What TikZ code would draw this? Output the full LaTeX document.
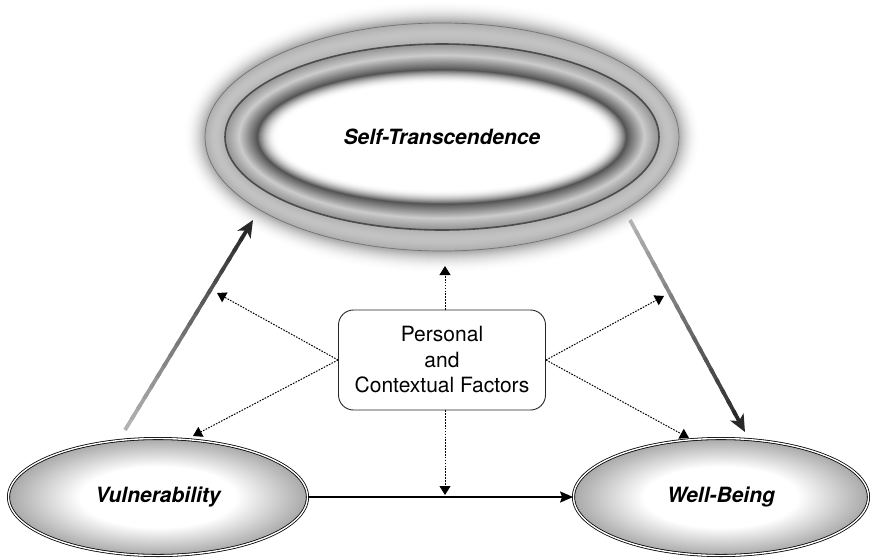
\documentclass[tikz,border=0pt]{standalone}
\usepackage{fontspec}
\setmainfont{TeX Gyre Heros}
\usetikzlibrary{positioning, calc, arrows.meta, shapes.geometric}

\pgfdeclareradialshading{ovalshade}{\pgfpoint{0bp}{0bp}}{color(0bp)=(white); color(13bp)=(white); color(25bp)=(black!34); color(50bp)=(black!34)}

\tikzset{
  oval/.style={ellipse, draw, double, double distance=1.4pt, line width=0.8pt, shade, shading=ovalshade, minimum height=117pt, font=\fontsize{21}{25}\selectfont\bfseries\itshape},
  factorbox/.style={draw=black!85, line width=0.9pt, rounded corners=15pt, minimum width=207pt, minimum height=100pt, align=center, font=\fontsize{21}{25.5}\selectfont},
  dotarrow/.style={-{Triangle[length=9pt,width=11pt]}, line width=1pt, dash pattern=on 1.6pt off 1.3pt},
  shaftseg/.style={line width=3.8pt, line cap=butt},
  bigtip/.style={-{Stealth[length=17pt,width=15pt,inset=4.5pt]}, line width=3.8pt}
}

\begin{document}
\begin{tikzpicture}[x=1pt, y=-1pt]
\useasboundingbox (0,0) rectangle (870,557);
\coordinate (stc) at (442,137);
%glow round the big oval
\foreach \i in {0,...,22}{
  \pgfmathsetmacro\p{34*(\i/22)^2}
  \fill[black!\p] (stc) ellipse [x radius={(259-\i)*1pt}, y radius={(137-\i)*1pt}];
}
%outer ring
\foreach \i in {0,...,20}{
  \pgfmathsetmacro\p{32-8*sin(9*\i)}
  \fill[black!\p] (stc) ellipse [x radius={(237-\i)*1pt}, y radius={(114-1.05*\i)*1pt}];
}
%inner ring
\foreach \i in {0,...,32}{
  \pgfmathsetmacro\p{ifthenelse(\i<14, 42-22*\i/14, 20+47*(\i-14)/18)}
  \fill[black!\p] (stc) ellipse [x radius={(217-\i)*1pt}, y radius={(93-0.8*\i)*1pt}];
}
%fade to white
\foreach \i in {0,...,20}{
  \pgfmathsetmacro\p{67*(1-\i/20)^2}
  \fill[black!\p] (stc) ellipse [x radius={(185-\i)*1pt}, y radius={(67.4-0.7*\i)*1pt}];
}
\draw[black!55, line width=0.7pt] (stc) ellipse [x radius=237pt, y radius=114pt];
\draw[black!70, line width=1.6pt] (stc) ellipse [x radius=217pt, y radius=93pt];
\node[font=\fontsize{21}{25}\selectfont\bfseries\itshape] (st) at (stc) {Self-Transcendence};

\node[oval, minimum width=299pt] (vul) at (158,497) {Vulnerability};
\node[oval, minimum width=295pt] (wel) at (721,497) {Well-Being};
\node[factorbox] (pcf) at (442,360) {Personal\\and\\Contextual Factors};

%shaded arrows
\coordinate (vsA) at (125,430);
\coordinate (vsB) at (253,220);
\coordinate (swA) at (630,220);
\coordinate (swB) at (745,432);
\foreach \i in {0,...,17}{
  \pgfmathsetmacro\p{30+52*\i/18}
  \pgfmathsetmacro\q{(\i+1.4)/20}
  \draw[shaftseg, black!\p] ($(vsA)!\i/20!(vsB)$) -- ($(vsA)!\q!(vsB)$);
  \draw[shaftseg, black!\p] ($(swA)!\i/20!(swB)$) -- ($(swA)!\q!(swB)$);
}
\draw[bigtip, black!84] ($(vsA)!0.9!(vsB)$) -- (vsB);
\draw[bigtip, black!84] ($(swA)!0.9!(swB)$) -- (swB);

\draw[-{Stealth[length=13pt,width=11pt,inset=2pt]}, line width=1.9pt] (vul.east) -- (wel.west);

%dotted arrows
\coordinate (upT) at (445,266);
\coordinate (dnT) at (445,495);
\coordinate (ulT) at (217,293);
\coordinate (llT) at (193,436);
\coordinate (urT) at (664,296);
\coordinate (lrT) at (689,438);
\draw[dotarrow] (pcf.north -| upT) -- (upT);
\draw[dotarrow] (pcf.south -| dnT) -- (dnT);
\draw[dotarrow] (pcf.west) -- (ulT);
\draw[dotarrow] (pcf.west) -- (llT);
\draw[dotarrow] (pcf.east) -- (urT);
\draw[dotarrow] (pcf.east) -- (lrT);
\end{tikzpicture}
\end{document}
